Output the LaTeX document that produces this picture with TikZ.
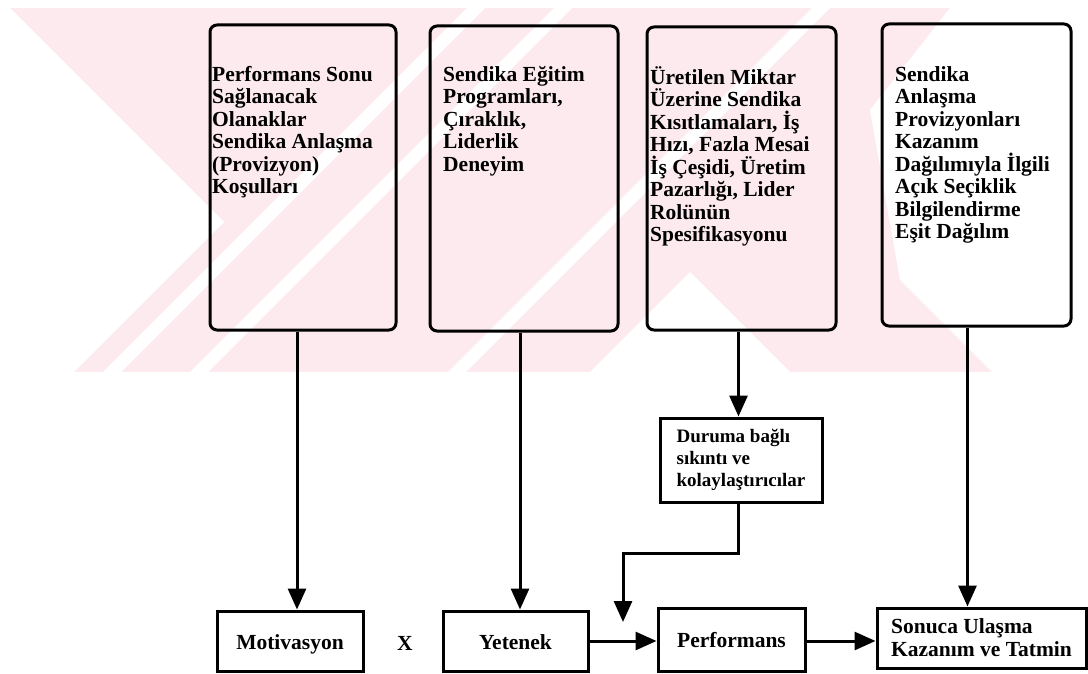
\documentclass[tikz,border=0pt]{standalone}
\usepackage{fontspec}
\setmainfont{Liberation Serif}
\usetikzlibrary{arrows.meta}
\definecolor{wmpink}{RGB}{252,234,238}
\begin{document}
\begin{tikzpicture}[x=1pt,y=-1pt,
  rbox/.style={draw, line width=3pt, rounded corners=7pt},
  sbox/.style={draw, line width=3pt, inner sep=0pt, font=\fontsize{21.5}{23}\selectfont\bfseries, align=left},
  one/.style={text height=18pt, text depth=2pt},
  lbl/.style={inner sep=0pt, font=\fontsize{21.5}{23}\selectfont\bfseries},
  conn/.style={line width=3pt, -{Triangle[length=21pt,width=18pt]}},
  ttxt/.style={font=\fontsize{21.5}{22.5}\selectfont\bfseries, align=left, anchor=north west, inner sep=0pt},
]
\useasboundingbox (0,0) rectangle (1088,674);
% watermark
\begin{scope}
  \clip (10,8) rectangle (1012,372);
  \fill[wmpink] (10,8) rectangle (1012,372);
  \fill[white] (0,-2) -- (224,222) -- (74,372) -- (0,372) -- cycle;
  \fill[white] (690,272) -- (790,372) -- (590,372) -- cycle;
  \fill[white] (950,8) -- (1100,8) -- (1100,380) -- (1000,380) -- (900,280) -- (870,110) -- cycle;
  \foreach \q in {475,562,820}
    \fill[white] (\q,0) -- (\q+18,0) -- (\q+18-380,380) -- (\q-380,380) -- cycle;
\end{scope}

% top boxes
\node[rbox, minimum width=186pt, minimum height=305pt] (b1) at (303,177.5) {};
\node[rbox, minimum width=188pt, minimum height=305pt] (b2) at (524,178.5) {};
\node[rbox, minimum width=189pt, minimum height=303pt] (b3) at (741.5,178.5) {};
\node[rbox, minimum width=189pt, minimum height=302pt] (b4) at (976.5,175) {};

\node[ttxt] (t1) at (212,66) {Performans Sonu\\Sağlanacak\\Olanaklar\\Sendika Anlaşma\\(Provizyon)\\Koşulları};
\node[ttxt] (t2) at (443,66) {Sendika Eğitim\\Programları,\\Çıraklık,\\Liderlik\\Deneyim};
\node[ttxt] (t3) at (650,66) {Üretilen Miktar\\Üzerine Sendika\\Kısıtlamaları, İş\\Hızı, Fazla Mesai\\İş Çeşidi, Üretim\\Pazarlığı, Lider\\Rolünün\\Spesifikasyonu};
\node[ttxt] (t4) at (895,66) {Sendika\\Anlaşma\\Provizyonları\\Kazanım\\Dağılımıyla İlgili\\Açık Seçiklik\\Bilgilendirme\\Eşit Dağılım};

% middle box
\node[sbox, font=\fontsize{19}{22}\selectfont\bfseries, minimum width=162pt, minimum height=84pt] (dur) at (741,460) {Duruma bağlı\\sıkıntı ve\\kolaylaştırıcılar};

% bottom boxes
\node[sbox, one, minimum width=146pt, minimum height=60pt] (mot) at (290,641) {Motivasyon};
\node[lbl] (x) at (405,643) {X};
\node[sbox, one, minimum width=145pt, minimum height=60pt] (yet) at (515.5,641) {Yetenek};
\node[sbox, one, minimum width=147pt, minimum height=63pt] (perf) at (731.5,639.5) {Performans};
\node[sbox, minimum width=209pt, minimum height=60pt] (son) at (981.5,638) {Sonuca Ulaşma\\Kazanım ve Tatmin};

% connectors
\draw[conn] ([xshift=-6pt]b1.south) -- ([xshift=-6pt]b1.south |- mot.north);
\draw[conn] ([xshift=-4pt]b2.south) -- ([xshift=-4pt]b2.south |- yet.north);
\draw[conn] ([xshift=-3pt]b3.south) -- ([xshift=-3pt]b3.south |- dur.north);
\draw[conn] ([xshift=-9pt]b4.south) -- ([xshift=-9pt]b4.south |- son.north);
\coordinate (bend) at (623,553);
\coordinate (jn) at (623,622);
\draw[conn] ([xshift=-3pt]dur.south) |- (bend) -- (jn);
\draw[conn] (yet.east) -- (yet.east -| perf.west);
\draw[conn] (perf.east |- yet.east) -- (yet.east -| son.west);
\end{tikzpicture}
\end{document}
